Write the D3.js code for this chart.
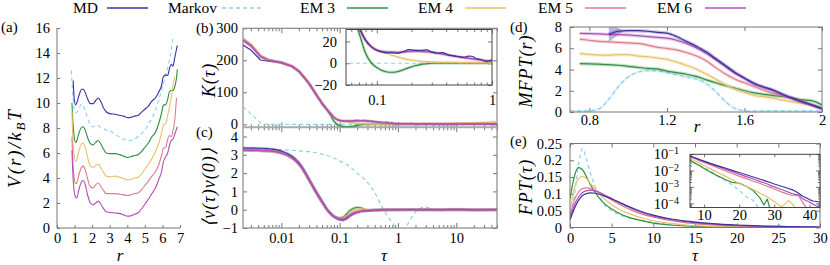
<!DOCTYPE html>
<html><head><meta charset="utf-8">
<script src="https://cdn.jsdelivr.net/npm/d3@7"></script>
<style>body{margin:0;background:#fff} svg text{font-family:"Liberation Serif","Times New Roman",serif !important;}</style>
</head><body><svg id="c" width="830" height="265"></svg>
<script>
// ---------------- DATA ----------------
const seriesNames = ["MD","Markov","EM 3","EM 4","EM 5","EM 6"];
const colors = ["#3b31a0","#8ecfef","#2f8f40","#e6c36a","#e07b8d","#b04fb6"];

// (a) potential
const aR = [0.82,0.85,0.9,0.92,0.97,1.05,1.12,1.25,1.4,1.5,1.6,1.75,1.9,2.05,2.2,2.35,2.5,2.65,2.8,3.0,3.3,3.6,3.8,4.0,4.2,4.4,4.6,4.8,5.0,5.2,5.4,5.6,5.8,5.95,6.05,6.2,6.3,6.4,6.5,6.6,6.7,6.8,6.85];
const aMD = [null,null,null,11.8,10.5,9.85,10.0,10.6,11.1,11.1,10.85,10.3,9.95,9.95,10.2,10.4,10.1,9.6,9.3,9.15,9.1,9.0,8.95,8.82,8.85,8.95,9.0,9.25,9.5,9.75,10.15,10.4,10.9,11.4,12.1,12.25,12.2,12.75,13.1,12.95,13.6,14.3,14.6];
const aMarkov = [12.6,11.8,10.6,10.2,9.6,9.25,9.25,9.6,9.9,9.8,9.45,8.75,8.25,8.1,8.15,8.2,8.05,7.95,7.85,7.8,7.5,7.25,7.1,7.02,7.0,7.1,7.3,7.55,7.85,8.3,8.75,9.4,10.3,11.0,11.5,12.3,12.8,13.5,14.2,15.3,null,null,null];
const aEM3 = [null,10.0,8.6,8.2,7.4,6.85,6.95,7.6,8.05,8.1,7.85,7.2,6.75,6.65,6.85,7.0,6.7,6.3,6.0,5.95,5.95,5.85,5.75,5.65,5.7,5.8,5.85,6.1,6.45,6.8,7.3,7.65,8.4,9.2,9.8,9.9,10.3,10.9,11.0,11.0,11.3,12.0,12.7];
const aEM4 = [null,9.3,7.2,6.7,5.9,5.3,5.45,6.2,6.75,6.8,6.5,5.6,4.95,4.85,5.0,5.1,4.8,4.45,4.15,4.1,4.15,4.05,3.95,3.85,3.88,4.0,4.05,4.3,4.7,5.1,5.55,6.1,6.8,7.6,8.2,8.4,9.0,9.7,10.4,11.4,12.1,null,null];
const aEM5 = [null,7.3,5.4,4.9,4.1,3.55,3.6,4.3,4.85,4.95,4.7,3.9,3.3,3.2,3.45,3.6,3.3,3.0,2.75,2.75,2.75,2.7,2.65,2.6,2.65,2.75,2.8,3.05,3.4,3.75,4.15,4.5,5.1,5.8,6.35,6.5,7.1,7.4,7.3,7.8,8.6,10.4,null];
const aEM6 = [null,6.2,4.4,3.9,3.0,2.5,2.4,3.1,3.7,3.8,3.5,2.6,2.0,1.85,2.0,2.15,1.9,1.55,1.3,1.25,1.2,1.15,1.05,0.95,0.97,1.1,1.2,1.5,1.9,2.3,2.75,3.2,3.9,4.5,5.25,5.75,6.0,6.6,7.0,7.1,7.5,7.9,8.1];

// (b) memory kernel K(tau)
const bTau = [0.0022,0.003,0.0044,0.006,0.008,0.01,0.015,0.02,0.025,0.03,0.04,0.05,0.06,0.07,0.08,0.09,0.1,0.11,0.12,0.135,0.15,0.17,0.19,0.21,0.24,0.27,0.3,0.33,0.37,0.42,0.47,0.52,0.57,0.62,0.67,0.72,0.8,0.9,1.0,1.3,1.7,2.2,3,4,5.5,7.5,10,14,20,28,38,50];
const bMD = [248,232,201,197,195,192,182,166,145,127,92,65,47,33,21,15,12,10.5,9.5,9.8,9.0,10.8,12.5,12.0,11.8,12.3,10.5,9.4,9.8,7.5,6.8,6.0,5.4,6.5,6.4,4.6,3.4,1.5,3.0,1.4,2.6,0.6,1.8,0.8,1.3,-0.4,0.9,1.6,0.4,1.3,0.3,1.0];
const bEM3 = [266,248,213,201,196,193,182,166,145,127,92,65,47,28,9,0,-4,-6.5,-7.8,-8.3,-7.8,-6.0,-4.0,-2.5,-1.2,-0.5,0.0,0.1,0.1,0.1,0.1,0.0,0.0,0.0,-0.1,-0.1,-0.1,-0.1,0.0,0.0,0.2,0.4,0.6,0.8,1.0,1.2,1.4,1.6,1.8,2.0,2.2,2.4];
const bEM4 = [268,250,214,202,196,193,182,166,145,127,92,65,47,33,21,15,12,10.5,9.5,7.5,5.8,4.3,3.2,2.5,1.8,1.4,1.2,1.0,0.9,0.8,0.7,0.6,0.5,0.5,0.4,0.4,0.3,0.2,0.1,0.0,0.0,0.2,0.6,1.0,1.5,2.0,2.6,3.4,4.4,5.6,7.0,8.5];
const bEM5 = [266,248,213,201,196,193,182,166,145,127,92,65,47,33,21,15,12,10.8,10.2,10.0,9.8,10.2,10.6,10.8,10.7,10.3,9.8,9.2,8.4,7.4,6.5,5.7,5.0,4.5,4.0,3.5,2.9,2.3,1.9,1.4,1.1,0.9,0.7,0.6,0.6,0.7,0.8,0.9,1.0,1.1,1.2,1.3];
const bEM6 = [262,245,211,200,196,193,182,166,145,127,92,65,47,33,21,15,12,11,10.5,10.2,10.0,10.5,11.0,11.3,11.2,10.8,10.2,9.5,8.6,7.6,6.6,5.8,5.2,4.7,4.2,3.7,3.0,2.4,2.0,1.5,1.2,1.0,0.8,0.6,0.5,0.5,0.5,0.5,0.6,0.6,0.7,0.8];
const bMarkovTau = [0.0022,0.0047,0.01,50];
const bMarkov = [55,0,0,0];

// (c) velocity autocorrelation
const cTau = [0.0022,0.004,0.007,0.01,0.013,0.017,0.022,0.03,0.04,0.05,0.06,0.07,0.08,0.09,0.1,0.115,0.13,0.15,0.175,0.2,0.23,0.27,0.32,0.4,0.5,0.7,1,2,5,10,20,50];
const cMD = [3.37,3.36,3.31,3.2,3.05,2.8,2.4,1.65,0.95,0.45,0.05,-0.2,-0.38,-0.48,-0.55,-0.57,-0.5,-0.35,-0.22,-0.15,-0.1,-0.07,-0.05,-0.03,-0.02,0.0,0.0,0.01,0.0,0.02,-0.01,0.01];
const cEM3 = [3.25,3.24,3.2,3.1,2.96,2.72,2.33,1.62,0.92,0.42,0.03,-0.21,-0.36,-0.43,-0.45,-0.4,-0.25,-0.05,0.08,0.12,0.1,0.0,-0.05,-0.03,0.0,0,0,0,0,0,0,0];
const cEM4 = [3.25,3.24,3.2,3.1,2.96,2.72,2.33,1.62,0.92,0.42,0.03,-0.21,-0.36,-0.44,-0.47,-0.44,-0.34,-0.18,-0.04,0.03,0.05,0.03,0.0,-0.02,-0.01,0,0,0,0,0,0,0];
const cEM5 = [3.25,3.24,3.2,3.1,2.96,2.72,2.33,1.62,0.92,0.42,0.03,-0.21,-0.36,-0.44,-0.48,-0.47,-0.4,-0.27,-0.16,-0.1,-0.07,-0.05,-0.03,-0.02,-0.01,0,0,0,0,0,0,0];
const cEM6 = [3.25,3.24,3.2,3.1,2.96,2.72,2.33,1.62,0.92,0.42,0.03,-0.22,-0.38,-0.47,-0.52,-0.52,-0.45,-0.32,-0.2,-0.13,-0.09,-0.06,-0.04,-0.02,-0.01,0,0,0,0,0,0,0];
const cMarkovTau = [0.0022,0.005,0.01,0.02,0.041,0.07,0.103,0.15,0.2,0.27,0.34,0.43,0.53,0.65,0.78,0.9,1.08,1.25,1.4,1.7,2.07,2.4,2.8,3.3,4.1,6,10,50];
const cMarkov = [3.3,3.3,3.28,3.22,3.1,2.9,2.64,2.35,2.0,1.65,1.27,0.75,0.18,-0.3,-0.65,-0.95,-1.2,-1.15,-0.9,-0.45,-0.08,0.08,0.15,0.12,0.0,-0.02,0,0];

// (d) mean first passage time
const dR = [0.7,0.75,0.8,0.85,0.9,0.95,1.0,1.05,1.1,1.15,1.2,1.25,1.3,1.35,1.4,1.45,1.5,1.55,1.6,1.65,1.7,1.75,1.8,1.85,1.9,1.95,2.0];
const dMD = [null,null,null,null,7.3,7.6,7.65,7.65,7.6,7.5,7.42,7.1,6.65,6.2,5.7,5.05,4.4,3.75,3.2,2.7,2.35,2.05,1.65,1.28,0.95,0.65,0.33];
const dMarkov = [0.12,0.1,0.12,0.3,1.2,2.4,3.3,3.75,3.9,3.85,3.7,3.5,3.3,3.1,2.7,1.95,1.0,0.35,0.12,0.08,0.1,0.1,0.1,0.1,0.1,0.1,0.1];
const dEM3 = [null,4.55,4.53,4.5,4.45,4.4,4.3,4.2,4.1,4.05,3.85,3.7,3.55,3.35,3.05,2.75,2.5,2.25,2.0,1.8,1.65,1.55,1.45,1.3,1.15,1.05,0.66];
const dEM4 = [null,5.5,5.42,5.35,5.35,5.4,5.4,5.27,5.2,5.08,4.95,4.7,4.4,4.05,3.6,3.1,2.6,2.15,1.85,1.55,1.45,1.3,1.12,0.95,0.8,0.6,0.33];
const dEM5 = [null,6.85,6.75,6.65,6.6,6.55,6.5,6.45,6.3,6.1,5.98,5.85,5.6,5.3,4.85,4.2,3.6,3.1,2.75,2.4,2.05,1.75,1.5,1.25,0.98,0.66,0.33];
const dEM6 = [null,7.4,7.38,7.35,7.3,7.28,7.25,7.18,7.1,7.02,6.95,6.75,6.45,6.05,5.55,4.95,4.3,3.65,3.15,2.65,2.3,2.0,1.6,1.25,0.92,0.62,0.3];
const dBandR = [0.9,0.97];
const dBandLo = [6.6,7.55];
const dBandHi = [8.4,7.7];

// (e) first passage time distribution
const eT = [0,0.5,1,1.5,2,2.5,3,3.5,4,5,6,7,8,9,10,12,14,16,18,20,22,24,26,27,28,29,30,32,33,34,35,36,37,38,39,40,41,42,43];
const eMD = [0.022,0.055,0.08,0.095,0.101,0.103,0.102,0.099,0.095,0.085,0.074,0.063,0.053,0.044,0.037,0.026,0.019,0.014,0.01,0.0075,0.0055,0.004,0.0029,0.0025,0.0021,0.0018,0.0015,0.0011,0.00095,0.0008,0.00068,0.00055,0.0004,0.00028,0.00022,0.00017,0.00014,0.00013,0.00012];
const eMarkov = [0.02,0.09,0.185,0.235,0.2,0.158,0.122,0.094,0.072,0.05,0.037,0.029,0.024,0.019,0.015,0.009,0.0045,0.0025,0.0013,0.0006,0.00025,0.00015,0.00004,0.00002,0.00001,0.00001,0.00001,0.00001,0.00001,0.00001,0.00001,0.00001,0.00001,0.00001,0.00001,0.00001,0.00001,0.00001,0.00001];
const eEM3 = [0.085,0.15,0.178,0.172,0.15,0.125,0.105,0.088,0.074,0.055,0.041,0.031,0.024,0.018,0.013,0.0075,0.0045,0.0028,0.0019,0.0017,0.0011,0.0006,0.0002,0.00008,0.00018,0.00003,0.00002,0.00001,0.00001,0.00001,0.00001,0.00001,0.00001,0.00001,0.00001,0.00001,0.00001,0.00001,0.00001];
const eEM4 = [0.05,0.115,0.145,0.152,0.145,0.13,0.115,0.1,0.088,0.068,0.053,0.042,0.033,0.026,0.02,0.012,0.0072,0.0045,0.0027,0.0016,0.0011,0.0007,0.0004,0.00032,0.00025,0.00018,0.00013,0.00006,0.00009,0.00015,0.0001,0.00005,0.00003,0.00002,0.00002,0.00002,0.00002,0.00002,0.00002];
const eEM5 = [0.033,0.08,0.105,0.116,0.118,0.115,0.11,0.104,0.097,0.082,0.068,0.056,0.045,0.037,0.031,0.021,0.014,0.0095,0.0065,0.0045,0.0032,0.0022,0.0016,0.0013,0.0011,0.0009,0.00075,0.0005,0.00042,0.00035,0.00032,0.0003,0.00028,0.00012,0.00006,0.00004,0.00003,0.00002,0.00002];
const eEM6 = [0.025,0.065,0.09,0.104,0.11,0.111,0.109,0.105,0.099,0.086,0.073,0.061,0.05,0.041,0.034,0.024,0.017,0.012,0.0085,0.006,0.0042,0.003,0.0021,0.0018,0.0015,0.0012,0.001,0.0007,0.00058,0.00048,0.0004,0.00035,0.00032,0.0002,0.00015,0.00012,0.00009,0.00007,0.00005];

// tick values
const aXTicks = [0,1,2,3,4,5,6,7];
const aYTicks = [0,2,4,6,8,10,12,14,16];
const bYTicks = [0,100,200,300];
const cYTicks = [-1,0,1,2,3,4];
const bcXMajor = [0.01,0.1,1,10];
const biYTicks = [-20,0,20];
const biXMajor = [0.1,1];
const dXTicks = [0.8,1.2,1.6,2.0];
const dYTicks = [0,2,4,6,8];
const eXTicks = [0,5,10,15,20,25,30];
const eYTicks = [0,0.05,0.1,0.15,0.2,0.25];
const eiXTicks = [10,20,30,40];
const eiYTicks = [1e-1,1e-2,1e-3,1e-4];

// ---------------- DRAW ----------------
const FONT = "Liberation Serif, Times New Roman, serif";
const FRAME = "#777";
const TICKFS = 14.5;
const TITLEFS = 18;
const svg = d3.select("#c");
const defs = svg.append("defs");
function clip(id, x, y, w, h) {
  defs.append("clipPath").attr("id", id).append("rect").attr("x", x).attr("y", y).attr("width", w).attr("height", h);
  return `url(#${id})`;
}
function axis(orient, scale, at, vals, size, pad, fmt) {
  const f = orient === "b" ? d3.axisBottom : d3.axisLeft;
  const a = f(scale).tickValues(vals).tickSize(size).tickPadding(pad).tickFormat(fmt || (() => ""));
  const g = svg.append("g").attr("transform", orient === "b" ? `translate(0,${at})` : `translate(${at},0)`).call(a);
  g.select(".domain").remove();
  g.attr("font-family", FONT).attr("font-size", TICKFS);
  g.selectAll(".tick line").attr("stroke", FRAME);
  g.selectAll("text").attr("font-size", TICKFS).attr("fill", "#000");
  return g;
}
function frame(x0, y0, x1, y1, color, w) {
  svg.append("rect").attr("x", x0).attr("y", y0).attr("width", x1 - x0).attr("height", y1 - y0)
    .attr("fill", "none").attr("stroke", color || FRAME).attr("stroke-width", w || 1);
}
function series(g, xs, ys, x, y, ci, opt) {
  opt = opt || {};
  const pts = xs.map((t, i) => [t, ys[i]]).filter(p => p[1] != null && (!opt.log || p[1] > 0));
  const line = d3.line().x(p => x(p[0])).y(p => y(p[1])).curve(opt.curve || d3.curveLinear);
  if (opt.halo) g.append("path").attr("d", line(pts)).attr("fill", "none").attr("stroke", colors[ci])
      .attr("stroke-width", opt.halo).attr("stroke-opacity", 0.28).attr("stroke-linejoin", "round");
  g.append("path").attr("d", line(pts)).attr("fill", "none").attr("stroke", colors[ci])
    .attr("stroke-width", opt.w || 1.2).attr("stroke-linejoin", "round")
    .attr("stroke-dasharray", ci === 1 ? "4,3" : null);
}
function label(x, y, txt, opt) {
  opt = opt || {};
  const t = svg.append("text").attr("x", x).attr("y", y).attr("font-family", FONT)
    .attr("font-size", opt.size || 14).attr("text-anchor", opt.anchor || "start")
    .attr("font-style", opt.italic ? "italic" : null)
    .attr("letter-spacing", opt.ls || null);
  if (opt.rot) t.attr("transform", `rotate(-90,${x},${y})`);
  t.text(txt);
  return t;
}

// Legend
const legX = [73, 168, 300, 418, 538, 657];
const legL = [107, 222, 347, 465, 585, 705];
seriesNames.forEach((n, i) => {
  label(legX[i], 13, n, {size: 15.5});
  svg.append("line").attr("x1", legL[i]).attr("x2", legL[i] + 41).attr("y1", 8).attr("y2", 8)
    .attr("stroke", colors[i]).attr("stroke-width", 1.4).attr("stroke-dasharray", i === 1 ? "4,3" : null);
});

// ---- Panel (a)
const xA = d3.scaleLinear([0, 7], [57, 180]);
const yA = d3.scaleLinear([0, 16], [228, 28]);
svg.append("line").attr("x1", 57).attr("x2", 57).attr("y1", 28).attr("y2", 228).attr("stroke", FRAME);
svg.append("line").attr("x1", 57).attr("x2", 180).attr("y1", 228).attr("y2", 228).attr("stroke", FRAME);
axis("b", xA, 228, aXTicks, -3, 5, d3.format("d"));
axis("l", yA, 57, aYTicks, -3, 7, d3.format("d"));
const gA = svg.append("g").attr("clip-path", clip("ca", 57, 20, 130, 208));
[[aMarkov,1],[aMD,0],[aEM3,2],[aEM4,3],[aEM5,4],[aEM6,5]].forEach(([v,i]) =>
  series(gA, aR, v, xA, yA, i, {curve: d3.curveMonotoneX, w: 1.1}));
label(1, 32, "(a)", {size: 15});
const tA = svg.append("text").attr("x", 21).attr("y", 148).attr("font-family", FONT).attr("font-size", 19)
  .attr("font-style", "italic").attr("text-anchor", "middle").attr("letter-spacing", 2)
  .attr("transform", "rotate(-90,21,148)");
tA.append("tspan").text("V(r)/k");
tA.append("tspan").attr("font-size", 13).attr("dy", 4).text("B");
tA.append("tspan").attr("dy", -4).text("T");
label(120, 261, "r", {italic: true, size: 17, anchor: "middle"});

// ---- Panels (b) and (c)
const xB = d3.scaleLog([0.0022, 50], [243, 497]);
const yB = d3.scaleLinear([-10, 300], [127.5, 28.3]);
const yC = d3.scaleLinear([-1, 4.52], [228, 127]);
const minorB = xB.ticks().filter(t => !bcXMajor.includes(t));
axis("b", xB, 228, bcXMajor, -5, 5, d => d >= 1 ? d3.format("d")(d) : String(d));
axis("b", xB, 228, minorB, -3, 0);
axis("b", xB, 28.3, bcXMajor, 5, 0);
axis("b", xB, 28.3, minorB, 3, 0);
axis("b", xB, 127.3, bcXMajor, 5, 0);
axis("b", xB, 127.3, minorB, 3, 0);
axis("b", xB, 127.3, bcXMajor, -5, 0);
axis("b", xB, 127.3, minorB, -3, 0);
axis("l", yB, 243, bYTicks, -4, 5, d3.format("d"));
axis("l", yC, 243, cYTicks, -4, 5, d3.format("d"));
axis("l", yB, 497, bYTicks, 4, 0);
axis("l", yC, 497, cYTicks, 4, 0);
frame(243, 28.3, 497, 228, "#888", 1.2);
svg.append("line").attr("x1", 243).attr("x2", 497).attr("y1", 127.3).attr("y2", 127.3).attr("stroke", "#aaa").attr("stroke-width", 2);

const gB = svg.append("g").attr("clip-path", clip("cb", 243, 28.3, 254, 99));
series(gB, bMarkovTau, bMarkov, xB, yB, 1);
[[bEM3,2],[bEM4,3],[bMD,0],[bEM5,4],[bEM6,5]].forEach(([v,i]) =>
  series(gB, bTau, v, xB, yB, i, {halo: i === 0 ? 0 : 3}));

const gC = svg.append("g").attr("clip-path", clip("cc", 243, 128, 254, 100));
series(gC, cMarkovTau, cMarkov, xB, yC, 1, {curve: d3.curveMonotoneX});
[[cEM3,2],[cEM4,3],[cMD,0],[cEM5,4],[cEM6,5]].forEach(([v,i]) =>
  series(gC, cTau, v, xB, yC, i, {curve: d3.curveMonotoneX, halo: 3}));

// inset (b)
const xBi = d3.scaleLog([0.054, 1], [346, 492]);
const yBi = d3.scaleLinear([-20, 31], [85, 29.5]);
svg.append("rect").attr("x", 346).attr("y", 29.5).attr("width", 146).attr("height", 55.5).attr("fill", "#fff");
const minorBi = xBi.ticks().filter(t => !biXMajor.includes(t));
axis("b", xBi, 85, biXMajor, -4, 10, d => String(d));
axis("b", xBi, 85, minorBi, -2.5, 0);
axis("b", xBi, 29.5, biXMajor, 4, 0);
axis("b", xBi, 29.5, minorBi, 2.5, 0);
axis("l", yBi, 346, biYTicks, -4, 9, d3.format("d"));
axis("l", yBi, 492, biYTicks, 4, 0);
const gBi = svg.append("g").attr("clip-path", clip("cbi", 346, 29.5, 146, 55.5));
series(gBi, bMarkovTau, bMarkov, xBi, yBi, 1);
[[bEM3,2],[bEM4,3],[bEM5,4],[bEM6,5],[bMD,0]].forEach(([v,i]) =>
  series(gBi, bTau, v, xBi, yBi, i, {curve: d3.curveMonotoneX, halo: i === 0 ? 0 : 3}));
frame(346, 29.5, 492, 85, "#444", 1);

label(196, 33, "(b)", {size: 15});
label(196, 137, "(c)", {size: 15});
label(215, 80, "K(τ)", {italic: true, size: TITLEFS, anchor: "middle", rot: true, ls: 1});
label(215, 187, "⟨v(τ)v(0)⟩", {italic: true, size: TITLEFS, anchor: "middle", rot: true, ls: 1});
label(384, 261, "τ", {italic: true, size: 17, anchor: "middle"});

// ---- Panel (d)
const xD = d3.scaleLinear([0.7, 2.0], [570, 822]);
const yD = d3.scaleLinear([0, 8], [112, 27]);
axis("b", xD, 112, dXTicks, -4, 3, d => d === 2 ? "2" : d3.format(".1f")(d));
axis("b", xD, 27, dXTicks, 4, 0);
axis("l", yD, 570, dYTicks, -4, 8, d3.format("d"));
axis("l", yD, 822, dYTicks, 4, 0);
const gD = svg.append("g").attr("clip-path", clip("cd", 570, 27, 252, 85));
gD.append("path").attr("d", d3.area().x(r => xD(r)).y0((r, i) => yD(dBandLo[i])).y1((r, i) => yD(dBandHi[i]))(dBandR))
  .attr("fill", colors[0]).attr("fill-opacity", 0.35);
series(gD, dR, dMarkov, xD, yD, 1, {curve: d3.curveMonotoneX, halo: 2.5});
[[dEM3,2],[dEM4,3],[dEM5,4],[dEM6,5],[dMD,0]].forEach(([v,i]) =>
  series(gD, dR, v, xD, yD, i, {curve: d3.curveMonotoneX, halo: 3.5}));
frame(570, 27, 822, 112);
label(510, 32, "(d)", {size: 15});
label(532, 71, "MFPT(r)", {italic: true, size: TITLEFS, anchor: "middle", rot: true, ls: 1});
label(697, 132, "r", {italic: true, size: 17, anchor: "middle"});

// ---- Panel (e)
const xE = d3.scaleLinear([0, 30], [570, 820]);
const yE = d3.scaleLinear([0, 0.25], [227.5, 143.5]);
axis("b", xE, 227.5, eXTicks, -4, 5, d3.format("d"));
axis("b", xE, 143.5, eXTicks, 4, 0);
axis("l", yE, 570, eYTicks, -4, 8, d => d === 0 ? "0" : String(+d.toFixed(2)));
axis("l", yE, 820, eYTicks, 4, 0);
const gE = svg.append("g").attr("clip-path", clip("ce", 570, 143.5, 250, 84));
[[eMarkov,1],[eEM3,2],[eEM4,3],[eEM5,4],[eEM6,5],[eMD,0]].forEach(([v,i]) =>
  series(gE, eT, v, xE, yE, i, {curve: d3.curveMonotoneX}));
frame(570, 143.5, 820, 227.5);

// inset (e)
const xEi = d3.scaleLinear([6, 43], [690, 820]);
const yEi = d3.scaleLog([Math.pow(10, -4.25), Math.pow(10, -1.02)], [207.5, 154.3]);
svg.append("rect").attr("x", 690).attr("y", 154.3).attr("width", 130).attr("height", 53.2).attr("fill", "#fff");
axis("b", xEi, 207.5, eiXTicks, -3, 2, d3.format("d"));
axis("b", xEi, 154.3, eiXTicks, 3, 0);
const minorEi = yEi.ticks().filter(t => !eiYTicks.some(m => Math.abs(m - t) < 1e-12));
const yl = axis("l", yEi, 690, eiYTicks, -4, 11);
yl.selectAll(".tick text").each(function(d) {
  const t = d3.select(this);
  t.append("tspan").text("10");
  t.append("tspan").attr("dy", "-0.5em").attr("font-size", 10).text("−" + Math.round(-Math.log10(d)));
});
axis("l", yEi, 690, minorEi, -2, 0);
axis("l", yEi, 820, eiYTicks, 4, 0);
axis("l", yEi, 820, minorEi, 2, 0);
const gEi = svg.append("g").attr("clip-path", clip("cei", 690, 154.3, 130, 53.2));
[[eMarkov,1],[eEM3,2],[eEM4,3],[eEM5,4],[eEM6,5],[eMD,0]].forEach(([v,i]) =>
  series(gEi, eT, v, xEi, yEi, i, {log: true}));
frame(690, 154.3, 820, 207.5, "#444", 1);

label(510, 146, "(e)", {size: 15});
label(532, 187, "FPT(τ)", {italic: true, size: TITLEFS, anchor: "middle", rot: true, ls: 1});
label(695, 261, "τ", {italic: true, size: 17, anchor: "middle"});
</script></body></html>
